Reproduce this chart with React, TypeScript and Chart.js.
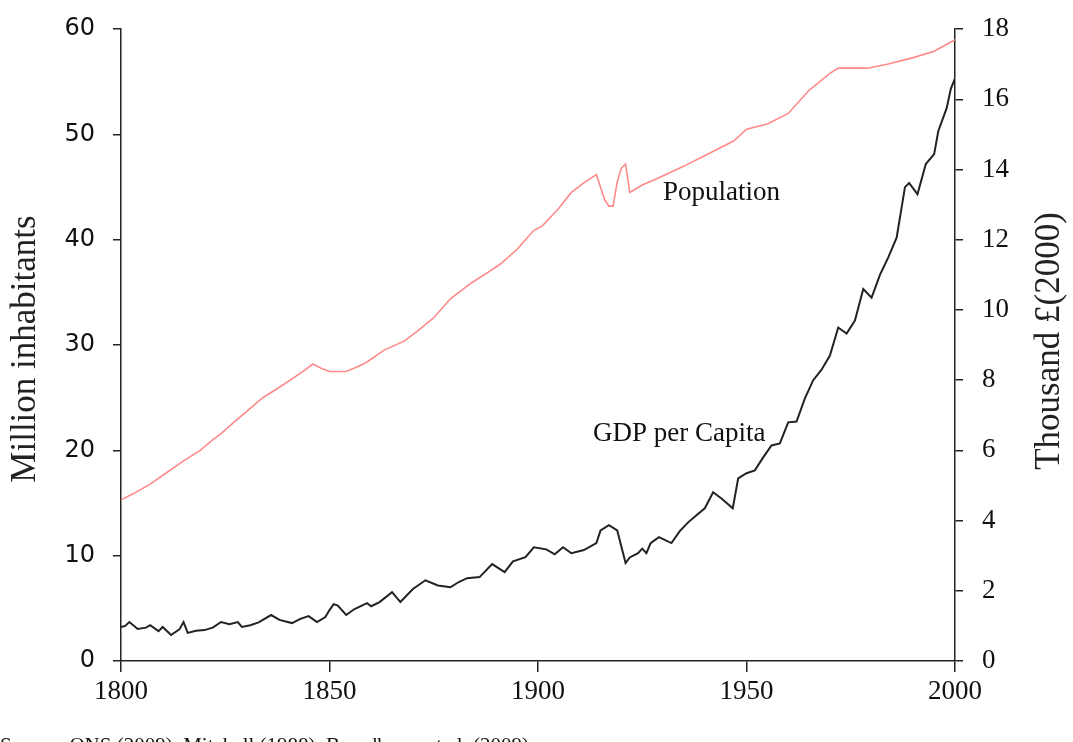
import React, { useEffect, useRef } from "react";
import { Chart, registerables } from "chart.js";

Chart.register(...registerables);

const popYears = [1800, 1803, 1807, 1811, 1815, 1819, 1822, 1824, 1826, 1831, 1834, 1838, 1841, 1844, 1846, 1848, 1850, 1854, 1857, 1859, 1863, 1868, 1871, 1875, 1879, 1884, 1888, 1891, 1895, 1899, 1901, 1905, 1908, 1911, 1914, 1915, 1916, 1917, 1918, 1919, 1920, 1921, 1922, 1925, 1929, 1935, 1939, 1943, 1947, 1950, 1955, 1960, 1965, 1970, 1972, 1979, 1984, 1990, 1995, 2000];
const popValues = [15.3, 15.9, 16.8, 17.9, 19.0, 20.0, 21.0, 21.6, 22.3, 24.0, 25.0, 26.0, 26.8, 27.6, 28.2, 27.8, 27.5, 27.5, 28.0, 28.4, 29.5, 30.4, 31.3, 32.6, 34.4, 35.9, 36.9, 37.7, 39.1, 40.9, 41.3, 43.0, 44.5, 45.4, 46.2, 45.0, 43.8, 43.2, 43.2, 45.5, 46.8, 47.2, 44.5, 45.2, 45.9, 47.0, 47.8, 48.6, 49.4, 50.5, 51.0, 52.0, 54.2, 55.8, 56.3, 56.3, 56.7, 57.3, 57.9, 59.0];

const gdpYears = [1800, 1801, 1802, 1804, 1806, 1807, 1809, 1810, 1812, 1814, 1815, 1816, 1818, 1820, 1822, 1824, 1826, 1828, 1829, 1831, 1833, 1836, 1838, 1841, 1843, 1845, 1847, 1849, 1850, 1851, 1852, 1854, 1856, 1859, 1860, 1862, 1865, 1867, 1870, 1873, 1876, 1879, 1881, 1883, 1886, 1889, 1892, 1894, 1897, 1899, 1902, 1904, 1906, 1908, 1911, 1914, 1915, 1917, 1919, 1921, 1922, 1924, 1925, 1926, 1927, 1929, 1932, 1934, 1936, 1938, 1940, 1942, 1944, 1946.7, 1948, 1950, 1952, 1954, 1956, 1958, 1960, 1962, 1964, 1966, 1968, 1970, 1972, 1974, 1976, 1978, 1980, 1982, 1984, 1986, 1988, 1989, 1991, 1993, 1995, 1996, 1998, 1999, 2000];
const gdpValues = [0.97, 1.0, 1.11, 0.91, 0.95, 1.02, 0.85, 0.97, 0.74, 0.9, 1.11, 0.8, 0.86, 0.88, 0.95, 1.11, 1.05, 1.11, 0.97, 1.02, 1.1, 1.31, 1.17, 1.08, 1.2, 1.28, 1.11, 1.25, 1.45, 1.62, 1.58, 1.31, 1.48, 1.65, 1.56, 1.68, 1.96, 1.68, 2.05, 2.3, 2.15, 2.1, 2.25, 2.36, 2.39, 2.76, 2.53, 2.84, 2.96, 3.24, 3.18, 3.04, 3.24, 3.07, 3.16, 3.36, 3.72, 3.87, 3.72, 2.79, 2.95, 3.07, 3.2, 3.07, 3.36, 3.53, 3.36, 3.7, 3.95, 4.15, 4.35, 4.81, 4.63, 4.35, 5.2, 5.35, 5.43, 5.8, 6.14, 6.2, 6.8, 6.82, 7.48, 8.0, 8.3, 8.7, 9.5, 9.33, 9.7, 10.6, 10.35, 11.0, 11.5, 12.06, 13.5, 13.62, 13.3, 14.16, 14.44, 15.1, 15.75, 16.3, 16.6];

const xTicks = [1800, 1850, 1900, 1950, 2000];
const leftTicks = [0, 10, 20, 30, 40, 50, 60];
const rightTicks = [0, 2, 4, 6, 8, 10, 12, 14, 16, 18];

const leftTitle = "Million inhabitants";
const rightTitle = "Thousand £(2000)";
const popLabel = "Population";
const gdpLabel = "GDP per Capita";
const sourceText = "Source: ONS (2009), Mitchell (1988), Broadberry et al. (2009)";

const SERIF = "'Liberation Serif', 'Times New Roman', serif";
const OFFSET = 6;

const textPlugin = {
  id: "customText",
  afterDraw(chart: any) {
    const ctx = chart.ctx;
    ctx.save();
    ctx.fillStyle = "#111";
    ctx.textBaseline = "alphabetic";
    ctx.textAlign = "left";
    ctx.font = `27px ${SERIF}`;
    ctx.fillText(popLabel, 663, 200 + OFFSET);
    ctx.fillText(gdpLabel, 593, 441 + OFFSET);

    ctx.font = `21px ${SERIF}`;
    ctx.fillText(sourceText, 0, 752 + OFFSET);

    ctx.font = `35px ${SERIF}`;
    ctx.textAlign = "center";
    ctx.textBaseline = "middle";
    ctx.save();
    ctx.translate(26, 349 + OFFSET);
    ctx.rotate(-Math.PI / 2);
    ctx.fillStyle = "#222";
    ctx.fillText(leftTitle, 0, 0);
    ctx.restore();
    ctx.save();
    ctx.translate(1050, 341 + OFFSET);
    ctx.rotate(-Math.PI / 2);
    ctx.fillStyle = "#222";
    ctx.fillText(rightTitle, 0, 0);
    ctx.restore();
    ctx.restore();
  },
};

export default function App() {
  const ref = useRef<HTMLCanvasElement | null>(null);
  useEffect(() => {
    if (!ref.current) return;
    const axisColor = "#222";
    const chart = new Chart(ref.current, {
      type: "line",
      data: {
        datasets: [
          {
            label: popLabel,
            data: popYears.map((y, i) => ({ x: y, y: popValues[i] })),
            borderColor: "#ff8a8a",
            borderWidth: 1.6,
            pointRadius: 0,
            tension: 0,
            yAxisID: "yL",
          },
          {
            label: gdpLabel,
            data: gdpYears.map((y, i) => ({ x: y, y: gdpValues[i] })),
            borderColor: "#222",
            borderWidth: 2,
            pointRadius: 0,
            tension: 0,
            yAxisID: "yR",
          },
        ],
      },
      plugins: [textPlugin],
      options: {
        responsive: false,
        animation: false,
        events: [],
        layout: { padding: { top: 22, left: 0, right: 0, bottom: 0 } },
        plugins: { legend: { display: false }, tooltip: { enabled: false } },
        scales: {
          x: {
            type: "linear",
            min: 1800,
            max: 2000,
            afterFit: (s: any) => { s.height = 81; },
            afterBuildTicks: (s: any) => { s.ticks = xTicks.map((v) => ({ value: v })); },
            grid: { drawOnChartArea: false, drawTicks: true, tickLength: 11, color: axisColor, lineWidth: 1.5 },
            border: { display: true, color: axisColor, width: 1.5 },
            ticks: { color: "#111", padding: 4, maxRotation: 0, font: { family: SERIF, size: 27 }, callback: (v: any) => String(v) },
          },
          yL: {
            type: "linear",
            position: "left",
            min: 0,
            max: 60,
            afterFit: (s: any) => { s.width = 121; },
            afterBuildTicks: (s: any) => { s.ticks = leftTicks.map((v) => ({ value: v })); },
            grid: { drawOnChartArea: false, drawTicks: true, tickLength: 8, color: axisColor, lineWidth: 1.5 },
            border: { display: true, color: axisColor, width: 1.5 },
            ticks: { color: "#111", padding: 18, font: { family: "'DejaVu Sans', Verdana, sans-serif", size: 24 } },
          },
          yR: {
            type: "linear",
            position: "right",
            min: 0,
            max: 18,
            afterFit: (s: any) => { s.width = 118; },
            afterBuildTicks: (s: any) => { s.ticks = rightTicks.map((v) => ({ value: v })); },
            grid: { drawOnChartArea: false, drawTicks: true, tickLength: 8, color: axisColor, lineWidth: 1.5 },
            border: { display: true, color: axisColor, width: 1.5 },
            ticks: { color: "#111", padding: 19, font: { family: SERIF, size: 27 } },
          },
        },
      },
    } as any);
    return () => chart.destroy();
  }, []);
  return (
    <div style={{ position: "fixed", left: 0, top: 0, width: 1073, height: 742, overflow: "hidden", background: "#fff" }}>
      <canvas ref={ref} width={1073} height={742 + OFFSET} style={{ display: "block", position: "absolute", left: 0, top: -OFFSET }} />
    </div>
  );
}
